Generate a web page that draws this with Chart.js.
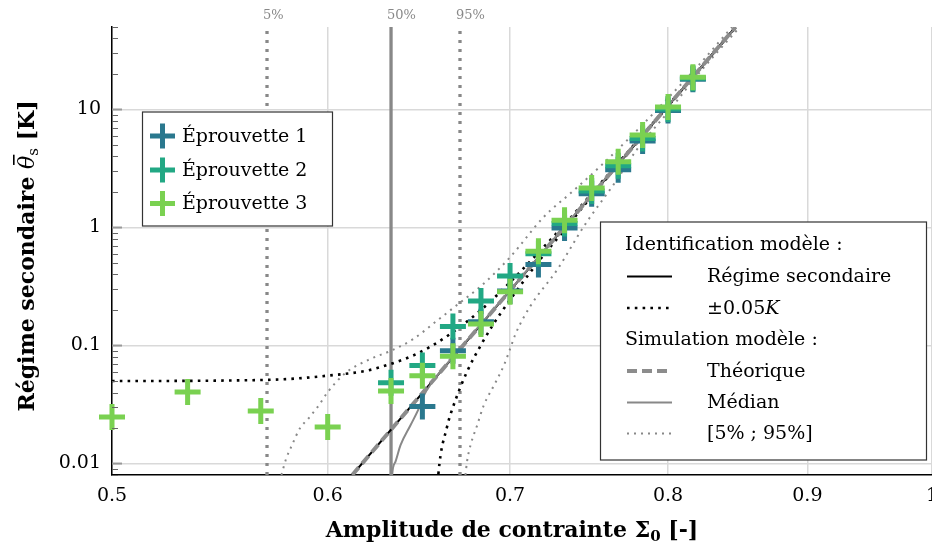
<!DOCTYPE html>
<html>
<head>
<meta charset="utf-8">
<script src="https://cdn.jsdelivr.net/npm/chart.js@4.4.0/dist/chart.umd.min.js"></script>
<style>
  html, body { margin: 0; padding: 0; background: #fff; }
</style>
</head>
<body>
<canvas id="creepChart" width="932" height="549"></canvas>
<script>
// essais : amplitude de contrainte (x) et régime secondaire en K (y)
const sigmaEp3 = [0.5, 0.533, 0.567, 0.6, 0.633, 0.65, 0.667, 0.683, 0.7, 0.717, 0.733, 0.75, 0.767, 0.783, 0.8, 0.817];
const thetaEp3 = [0.0248, 0.0403, 0.0279, 0.0204, 0.0411, 0.0556, 0.0811, 0.152, 0.286, 0.63, 1.15, 2.16, 3.6, 6.07, 10.5, 18.8];
const sigmaEp2 = [0.633, 0.65, 0.667, 0.683, 0.7, 0.717, 0.733, 0.75, 0.767, 0.783, 0.8, 0.817];
const thetaEp2 = [0.0483, 0.0676, 0.145, 0.239, 0.388, 0.60, 1.08, 2.04, 3.33, 5.69, 10.1, 18.4];
const sigmaEp1 = [0.65, 0.667, 0.683, 0.7, 0.717, 0.733, 0.75, 0.767, 0.783, 0.8, 0.817];
const thetaEp1 = [0.0305, 0.0904, 0.159, 0.29, 0.486, 0.99, 1.93, 3.08, 5.4, 9.8, 18.0];

// identification modèle
const sigmaRegime = [0.6126, 0.847];
const thetaRegime = [0.008, 50];
const sigmaPlus = [0.5, 0.55, 0.58, 0.6, 0.62, 0.633, 0.645, 0.655, 0.667, 0.683, 0.7, 0.717, 0.733, 0.75, 0.8, 0.847];
const thetaPlus = [0.050, 0.0505, 0.052, 0.0556, 0.0612, 0.070, 0.0824, 0.099, 0.13, 0.20, 0.344, 0.614, 1.06, 1.94, 10.8, 49.5];
const sigmaMinus = [0.6583, 0.6588, 0.6637, 0.667, 0.675, 0.683, 0.69, 0.7, 0.717, 0.733, 0.75, 0.8, 0.847];
const thetaMinus = [0.006, 0.008, 0.0205, 0.03, 0.06, 0.101, 0.15, 0.244, 0.514, 0.96, 1.84, 10.7, 49.5];

// simulation modèle
const sigmaMedian = [0.6333, 0.6336, 0.6354, 0.6381, 0.6435, 0.648, 0.6508, 0.655, 0.667, 0.7, 0.75, 0.8, 0.847];
const thetaMedian = [0.006, 0.008, 0.0104, 0.0143, 0.0211, 0.0292, 0.0377, 0.048, 0.08, 0.294, 1.89, 10.8, 49.5];
const sigmaQ05 = [0.577, 0.5793, 0.5823, 0.586, 0.5905, 0.5955, 0.6, 0.609, 0.622, 0.633, 0.645, 0.658, 0.671, 0.683, 0.7, 0.72, 0.7376, 0.7555, 0.78, 0.8, 0.82, 0.8445];
const thetaQ05 = [0.008, 0.011, 0.0145, 0.0198, 0.0243, 0.0311, 0.0403, 0.0583, 0.0769, 0.0904, 0.1135, 0.162, 0.231, 0.319, 0.56, 1.22, 2.0, 3.3, 6.8, 12.5, 23, 50];
const sigmaQ95 = [0.6741, 0.675, 0.677, 0.6808, 0.6846, 0.6905, 0.6963, 0.7, 0.7032, 0.7122, 0.7286, 0.745, 0.7661, 0.779, 0.8, 0.82, 0.85];
const thetaQ95 = [0.008, 0.0104, 0.0143, 0.0211, 0.0311, 0.0458, 0.0676, 0.0934, 0.125, 0.2167, 0.4416, 1.02, 2.53, 4.54, 9.5, 19.5, 50];

// seuils des quantiles
const quantileSigma = [0.570, 0.633, 0.671];
const quantileLabels = ['5%', '50%', '95%'];

const xTicks = [0.5, 0.6, 0.7, 0.8, 0.9, 1];
const xTickLabels = ['0.5', '0.6', '0.7', '0.8', '0.9', '1'];
const yTicks = [0.01, 0.1, 1, 10];
const yTickLabels = ['0.01', '0.1', '1', '10'];

const Y_MIN = 0.008, Y_MAX = 50;
const SERIF = '"DejaVu Serif", serif';
const C1 = '#2a788e', C2 = '#22a884', C3 = '#7ad151';
const GREY = '#888888';

const pts = (xs, ys) => xs.map((x, i) => ({x: x, y: ys[i]}));
const vline = (x) => [{x: x, y: Y_MIN}, {x: x, y: Y_MAX}];

function markers(label, xs, ys, color) {
    return {
        label: label, data: pts(xs, ys), showLine: false, clip: false,
        pointStyle: 'cross', pointRadius: 13, pointHoverRadius: 13,
        pointBorderWidth: 5, pointBorderColor: color, pointBackgroundColor: color
    };
}
function curve(label, xs, ys, color, width, dash) {
    return {
        label: label, data: pts(xs, ys), borderColor: color, borderWidth: width,
        borderDash: dash || [], pointRadius: 0, cubicInterpolationMode: 'monotone'
    };
}

// le premier jeu est dessiné au-dessus
const datasets = [
    markers('Éprouvette 3', sigmaEp3, thetaEp3, C3),
    markers('Éprouvette 2', sigmaEp2, thetaEp2, C2),
    markers('Éprouvette 1', sigmaEp1, thetaEp1, C1),
    curve('Théorique', sigmaRegime, thetaRegime, '#8c8c8c', 4, [10, 5]),
    curve('Médian', sigmaMedian, thetaMedian, GREY, 2),
    curve('Régime secondaire', sigmaRegime, thetaRegime, '#000', 2),
    curve('+0.05K', sigmaPlus, thetaPlus, '#000', 2.6, [2.6, 5.2]),
    curve('-0.05K', sigmaMinus, thetaMinus, '#000', 2.6, [2.6, 5.2]),
    curve('5%', sigmaQ05, thetaQ05, GREY, 2, [2, 5]),
    curve('95%', sigmaQ95, thetaQ95, GREY, 2, [2, 5]),
    {label: 'q05', data: vline(quantileSigma[0]), borderColor: GREY, borderWidth: 3.3, borderDash: [3, 6], pointRadius: 0},
    {label: 'q50', data: vline(quantileSigma[1]), borderColor: GREY, borderWidth: 3.3, pointRadius: 0},
    {label: 'q95', data: vline(quantileSigma[2]), borderColor: GREY, borderWidth: 3.3, borderDash: [3, 6], pointRadius: 0}
];

function noPad(scale) {
    scale.paddingLeft = 0; scale.paddingRight = 0;
    scale.paddingTop = 0; scale.paddingBottom = 0;
}

function drawRich(ctx, parts, cx, baseY) {
    let total = 0;
    parts.forEach(p => { ctx.font = p.font; p.w = ctx.measureText(p.text).width; total += p.w; });
    let x = cx - total / 2;
    ctx.textAlign = 'left';
    ctx.textBaseline = 'alphabetic';
    parts.forEach(p => {
        ctx.font = p.font;
        ctx.fillText(p.text, x, baseY + (p.dy || 0));
        if (p.bar) ctx.fillRect(x + 4, baseY - 21, p.w - 3, 1.6);
        x += p.w;
    });
}

function drawText(ctx, parts, x, y) {
    ctx.textAlign = 'left';
    ctx.textBaseline = 'middle';
    parts.forEach(p => {
        ctx.font = p.font;
        ctx.fillText(p.text, x, y);
        x += ctx.measureText(p.text).width;
    });
}

const decorPlugin = {
    id: 'decor',
    afterDraw(chart) {
        const ctx = chart.ctx;
        const xs = chart.scales.x, ys = chart.scales.y;
        const area = chart.chartArea;
        ctx.save();

        // petites graduations de l'axe y
        ctx.strokeStyle = '#666';
        ctx.lineWidth = 1;
        for (let e = -3; e <= 1; e++) {
            for (let m = 2; m <= 9; m++) {
                const v = m * Math.pow(10, e);
                if (v < Y_MIN || v > Y_MAX) continue;
                const py = Math.round(ys.getPixelForValue(v)) + 0.5;
                ctx.beginPath(); ctx.moveTo(area.left, py); ctx.lineTo(area.left + 6, py); ctx.stroke();
            }
        }
        ctx.strokeStyle = '#999';
        ctx.lineWidth = 2;
        yTicks.forEach(v => {
            const py = ys.getPixelForValue(v);
            ctx.beginPath(); ctx.moveTo(area.left, py); ctx.lineTo(area.left + 10, py); ctx.stroke();
        });

        // étiquettes des quantiles
        ctx.fillStyle = GREY;
        ctx.font = '13px ' + SERIF;
        ctx.textAlign = 'left';
        ctx.textBaseline = 'middle';
        quantileSigma.forEach((v, i) => {
            ctx.fillText(quantileLabels[i], xs.getPixelForValue(v) - 4, 16);
        });

        // titres des axes
        ctx.fillStyle = '#000';
        const B = 'bold 22px ' + SERIF;
        drawRich(ctx, [
            {text: 'Amplitude de contrainte ', font: B},
            {text: 'Σ', font: B},
            {text: '0', font: 'bold 15px ' + SERIF, dy: 4},
            {text: ' [-]', font: B}
        ], 512, 537);
        ctx.save();
        ctx.translate(34, 256);
        ctx.rotate(-Math.PI / 2);
        drawRich(ctx, [
            {text: 'Régime secondaire ', font: B},
            {text: 'θ', font: 'italic 22px ' + SERIF, bar: true},
            {text: 's', font: '15px ' + SERIF, dy: 4},
            {text: ' [K]', font: B}
        ], 0, 0);
        ctx.restore();

        // légende des éprouvettes
        const F = '19px ' + SERIF;
        ctx.fillStyle = '#fff';
        ctx.fillRect(142.5, 112, 190, 114);
        ctx.strokeStyle = '#333';
        ctx.lineWidth = 1.2;
        ctx.strokeRect(142.5, 112, 190, 114);
        [[C1, 'Éprouvette 1', 136], [C2, 'Éprouvette 2', 170], [C3, 'Éprouvette 3', 203.5]].forEach(r => {
            ctx.strokeStyle = r[0];
            ctx.lineWidth = 5;
            ctx.beginPath();
            ctx.moveTo(162.5 - 12.5, r[2]); ctx.lineTo(162.5 + 12.5, r[2]);
            ctx.moveTo(162.5, r[2] - 12.5); ctx.lineTo(162.5, r[2] + 12.5);
            ctx.stroke();
            ctx.fillStyle = '#000';
            drawText(ctx, [{text: r[1], font: F}], 182, r[2] + 1);
        });

        // légende des modèles
        ctx.fillStyle = '#fff';
        ctx.fillRect(600.5, 222, 326, 238);
        ctx.strokeStyle = '#333';
        ctx.lineWidth = 1.2;
        ctx.strokeRect(600.5, 222, 326, 238);
        ctx.fillStyle = '#000';
        drawText(ctx, [{text: 'Identification modèle :', font: F}], 625, 245.5);
        drawText(ctx, [{text: 'Simulation modèle :', font: F}], 625, 340);
        const rows = [
            ['#000', 2.2, [], [{text: 'Régime secondaire', font: F}], 276.5],
            ['#000', 2.6, [2.6, 5.2], [{text: '±0.05', font: F}, {text: 'K', font: 'italic 19px ' + SERIF}], 308],
            ['#8c8c8c', 4, [10, 5], [{text: 'Théorique', font: F}], 371],
            [GREY, 2, [], [{text: 'Médian', font: F}], 402.5],
            [GREY, 2, [2, 5], [{text: '[5% ; 95%]', font: F}], 433.5]
        ];
        rows.forEach(r => {
            ctx.strokeStyle = r[0];
            ctx.lineWidth = r[1];
            ctx.setLineDash(r[2]);
            ctx.beginPath(); ctx.moveTo(627, r[4]); ctx.lineTo(672, r[4]); ctx.stroke();
            ctx.setLineDash([]);
            ctx.fillStyle = '#000';
            drawText(ctx, r[3], 707, r[4] + 1);
        });
        ctx.restore();
    }
};

const config = {
    type: 'line',
    data: {datasets: datasets},
    options: {
        responsive: false,
        animation: false,
        layout: {autoPadding: false, padding: {left: 0, right: 0, top: 27, bottom: 0}},
        plugins: {legend: {display: false}, tooltip: {enabled: false}},
        scales: {
            x: {
                type: 'logarithmic', min: 0.5, max: 1,
                afterBuildTicks: (s) => { s.ticks = xTicks.map(v => ({value: v})); },
                afterFit: (s) => { s.height = 74; noPad(s); },
                grid: {color: '#d9d9d9', lineWidth: 1.5, drawTicks: false},
                border: {display: true, color: '#000', width: 1.5},
                ticks: {
                    autoSkip: false, maxRotation: 0, padding: 10, color: '#000',
                    font: {family: SERIF, size: 19},
                    callback: (v, i) => xTickLabels[i]
                }
            },
            y: {
                type: 'logarithmic', min: Y_MIN, max: Y_MAX,
                afterBuildTicks: (s) => { s.ticks = yTicks.map(v => ({value: v})); },
                afterFit: (s) => { s.width = 112; noPad(s); },
                grid: {color: '#d9d9d9', lineWidth: 1.5, drawTicks: false},
                border: {display: true, color: '#000', width: 1.5},
                ticks: {
                    autoSkip: false, padding: 11, color: '#000',
                    font: {family: SERIF, size: 19},
                    callback: (v, i) => yTickLabels[i]
                }
            }
        }
    },
    plugins: [decorPlugin]
};

new Chart(document.getElementById('creepChart'), config);
</script>
</body>
</html>
